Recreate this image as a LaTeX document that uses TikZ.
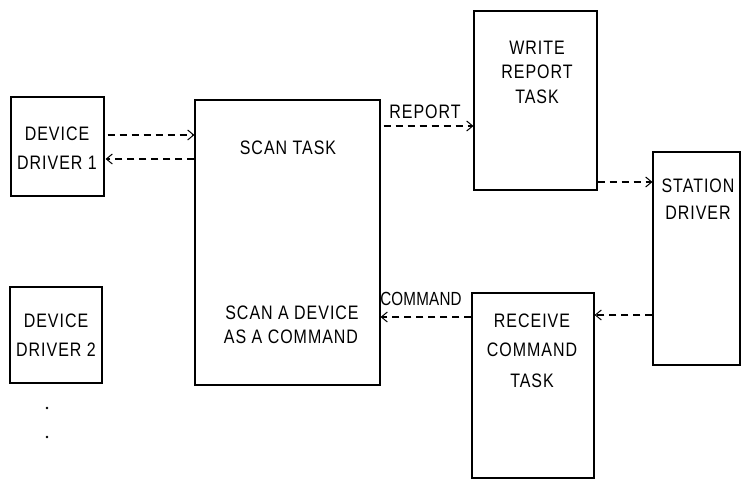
\documentclass[tikz,border=0pt]{standalone}
\usepackage{fontspec}
\setmainfont{Liberation Sans}
\newfontfamily\narrowsans[FakeStretch=0.82,LetterSpace=5]{Liberation Sans}
\newfontfamily\tightsans[FakeStretch=0.8,LetterSpace=1]{Liberation Sans}
\usetikzlibrary{arrows.meta}
\begin{document}
\begin{tikzpicture}[x=1pt,y=-1pt,
  box/.style={draw,line width=1.1pt,inner sep=0pt},
  lbl/.style={font=\narrowsans\fontsize{19.5}{19.5}\selectfont,inner sep=1pt},
  tlbl/.style={font=\tightsans\fontsize{19}{19}\selectfont,inner sep=1pt},
  dsh/.style={line width=1.1pt,dash pattern=on 7pt off 5pt,-{Straight Barb[length=6pt,width=10pt,line width=1pt]}}]
\useasboundingbox (0,0) rectangle (742,481);
% boxes
\node[box,minimum width=93pt,minimum height=99pt] (dd1) at (57.5,146.5) {};
\node[box,minimum width=92pt,minimum height=96pt] (dd2) at (56,335) {};
\node[box,minimum width=185pt,minimum height=285pt] (scan) at (287.5,242.5) {};
\node[box,minimum width=123pt,minimum height=179pt] (write) at (535.5,100.5) {};
\node[box,minimum width=87pt,minimum height=213pt] (station) at (696.5,258.5) {};
\node[box,minimum width=122pt,minimum height=185pt] (receive) at (533,385.5) {};
% texts
\node[lbl] (t1) at (57,134) {DEVICE};
\node[lbl] (t2) at (57,163) {DRIVER 1};
\node[lbl] (t3) at (56,321) {DEVICE};
\node[lbl] (t4) at (56,350) {DRIVER 2};
\node[lbl] (t5) at (288,148) {SCAN TASK};
\node[lbl] (t6) at (292,313) {SCAN A DEVICE};
\node[lbl] (t7) at (291,337) {AS A COMMAND};
\node[lbl] (t8) at (537,48) {WRITE};
\node[lbl] (t9) at (537,72) {REPORT};
\node[lbl] (t10) at (537,97) {TASK};
\node[lbl] (t11) at (698,186) {STATION};
\node[lbl] (t12) at (698,213) {DRIVER};
\node[lbl] (t13) at (532,321) {RECEIVE};
\node[lbl] (t14) at (532,350) {COMMAND};
\node[lbl] (t15) at (532,381) {TASK};
\node[lbl] (rep) at (425,112) {REPORT};
\node[tlbl] (cmd) at (421,299) {COMMAND};
% connectors
\coordinate (a1) at ([yshift=11.5pt]dd1.east);
\draw[dsh] ([xshift=3pt]a1) -- (a1 -| scan.west);
\coordinate (b1) at ([yshift=-12.5pt]dd1.east);
\draw[dsh] (b1 -| scan.west) -- ([xshift=1pt]b1);
\coordinate (c1) at ([yshift=-25.5pt]write.west);
\draw[dsh] ([xshift=3pt]c1 -| scan.east) -- (c1);
\coordinate (d1) at ([yshift=76.5pt]station.west);
\draw[dsh] (d1 -| write.east) -- (d1);
\coordinate (e1) at ([yshift=-56.5pt]station.west);
\draw[dsh] (e1) -- (e1 -| receive.east);
\coordinate (f1) at ([yshift=68.5pt]receive.west);
\draw[dsh] (f1) -- (f1 -| scan.east);
% continuation marks
\fill (47,408) circle (1.4pt);
\fill (47,437) circle (1.4pt);
\end{tikzpicture}
\end{document}
